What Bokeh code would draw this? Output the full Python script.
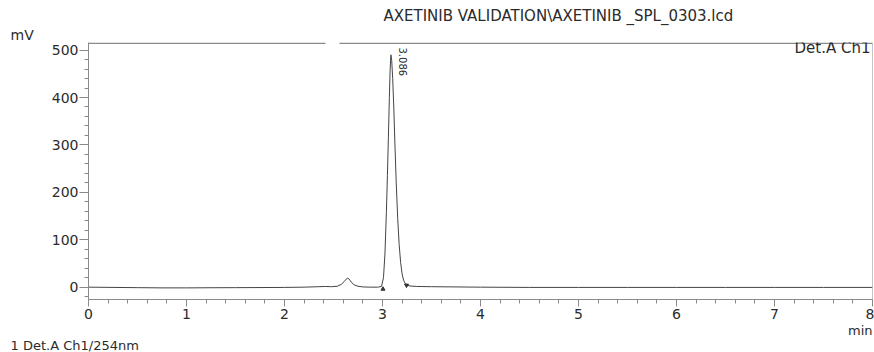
import math
from bokeh.plotting import figure
from bokeh.models import Range1d, FixedTicker, Label, Span, Title
from bokeh.embed import file_html
from bokeh.resources import INLINE

# ---- data ----
time_min = [0.0, 0.25, 0.5, 0.75, 1.0, 1.25, 1.5, 1.75, 2.0, 2.2,
            2.35, 2.42, 2.48, 2.54, 2.58, 2.61, 2.63, 2.645, 2.66, 2.68,
            2.71, 2.75, 2.8, 2.88, 2.95, 2.99, 3.01, 3.025, 3.04, 3.05,
            3.06, 3.07, 3.078, 3.086, 3.094, 3.104, 3.115, 3.127, 3.14, 3.155,
            3.17, 3.185, 3.2, 3.215, 3.23, 3.25, 3.28, 3.35, 3.5, 3.75,
            4.0, 4.5, 5.0, 5.5, 6.0, 6.5, 7.0, 7.5, 8.0]
signal_mv = [0.0, -0.5, -1.0, -1.5, -1.5, -1.2, -1.0, -0.8, -0.5, 0.0,
             1.0, 1.5, 1.0, 2.0, 6.0, 12.0, 17.0, 19.0, 17.0, 11.0,
             5.0, 2.0, 0.5, 0.0, 0.0, 1.5, 20.0, 70.0, 160.0, 235.0,
             315.0, 400.0, 460.0, 490.0, 478.0, 440.0, 380.0, 300.0, 220.0, 145.0,
             90.0, 52.0, 28.0, 15.0, 8.0, 4.0, 2.5, 1.5, 1.0, 0.5,
             0.0, -0.5, -0.5, -0.5, -0.5, -0.5, -0.5, -0.5, -0.5]
peak_rt = [3.086]
peak_height = [490.0]
peak_label = ["3.086"]
peak_start_t = [3.005]
peak_start_v = [-4.0]
peak_end_t = [3.245]
peak_end_v = [4.0]

x_major = [0, 1, 2, 3, 4, 5, 6, 7, 8]
x_minor = [round(i * 0.2, 1) for i in range(0, 41)]
y_major = [0, 100, 200, 300, 400, 500]
y_minor = list(range(-20, 520, 20))

title_text = "AXETINIB VALIDATION\\AXETINIB _SPL_0303.lcd"
y_unit = "mV"
x_unit = "min"
channel_text = "Det.A Ch1"
footer_text = "1  Det.A Ch1/254nm"

# ---- layout ----
W, H = 874, 352
L, R, T, B = 88, 872, 42, 299
X0, X1 = 0.0, 8.0
Y0, Y1 = -26.0, 516.0
FONT = "DejaVu Sans"
AXIS_COL = "#8a8a8a"
TEXT_COL = "#2b2b2b"


def px_x(page_x):
    return X0 + (page_x - L) / (R - L) * (X1 - X0)


def px_y(page_y):
    return Y1 - (page_y - T) / (B - T) * (Y1 - Y0)


p = figure(width=W, height=H, x_range=Range1d(X0, X1), y_range=Range1d(Y0, Y1),
           output_backend="svg", toolbar_location=None, title=None,
           min_border_left=L, min_border_right=W - R, min_border_top=T,
           min_border_bottom=H - B)
p.outline_line_color = None
p.grid.visible = False
p.background_fill_color = "white"
p.border_fill_color = "white"

xa = p.xaxis[0]
xa.ticker = FixedTicker(ticks=x_major, minor_ticks=x_minor)
xa.axis_line_color = AXIS_COL
xa.major_tick_line_color = AXIS_COL
xa.minor_tick_line_color = AXIS_COL
xa.major_tick_out = 7
xa.major_tick_in = 0
xa.minor_tick_out = 4
xa.minor_tick_in = 0
xa.major_label_standoff = 2
xa.major_label_text_font = FONT
xa.major_label_text_font_size = "14px"
xa.major_label_text_color = TEXT_COL

ya = p.yaxis[0]
ya.ticker = FixedTicker(ticks=y_major, minor_ticks=y_minor)
ya.axis_line_color = AXIS_COL
ya.major_tick_line_color = AXIS_COL
ya.minor_tick_line_color = AXIS_COL
ya.major_tick_out = 9
ya.major_tick_in = 0
ya.minor_tick_out = 4
ya.minor_tick_in = 0
ya.major_label_standoff = 1
ya.major_label_text_font = FONT
ya.major_label_text_font_size = "14px"
ya.major_label_text_color = TEXT_COL

# right border and top border (with the gap seen in the reference)
p.add_layout(Span(location=X1, dimension="height", line_color=AXIS_COL, line_width=1))
top_y = Y1 - 1.5
p.segment(x0=[X0, px_x(339)], y0=[top_y, top_y], x1=[px_x(325), X1], y1=[top_y, top_y],
          line_color=AXIS_COL, line_width=1.5)

# chromatogram
p.line(time_min, signal_mv, line_color="#444444", line_width=1)
p.scatter(peak_start_t, peak_start_v, marker="triangle", size=4, color="#333333")
p.scatter(peak_end_t, peak_end_v, marker="inverted_triangle", size=4, color="#333333")

# peak label (rotated)
for rt, h, lab in zip(peak_rt, peak_height, peak_label):
    p.add_layout(Label(x=rt, y=px_y(47), text=lab, angle=-math.pi / 2, x_offset=12,
                       text_align="left", text_baseline="middle", text_font=FONT,
                       text_font_size="10px", text_color=TEXT_COL))

# channel name inside the frame (top right)
p.add_layout(Label(x=X1, y=px_y(47), x_offset=-2, text=channel_text, text_align="right",
                   text_baseline="middle", text_font=FONT, text_font_size="15px",
                   text_color=TEXT_COL))


# texts outside the frame as titles
def title(text, side, align, offset, size="13px", standoff=0):
    p.add_layout(Title(text=text, align=align, offset=offset, standoff=standoff,
                       text_font=FONT, text_font_size=size, text_color=TEXT_COL,
                       text_font_style="normal"), side)


title(y_unit, "above", "left", 10 - L, "14px")
title(title_text, "above", "left", 383 - L, "15px")
title(x_unit, "below", "right", 0, "13px", -2)
title(footer_text, "below", "left", 10 - L, "13px", -2)

open("out.html", "w").write(file_html(p, INLINE))
